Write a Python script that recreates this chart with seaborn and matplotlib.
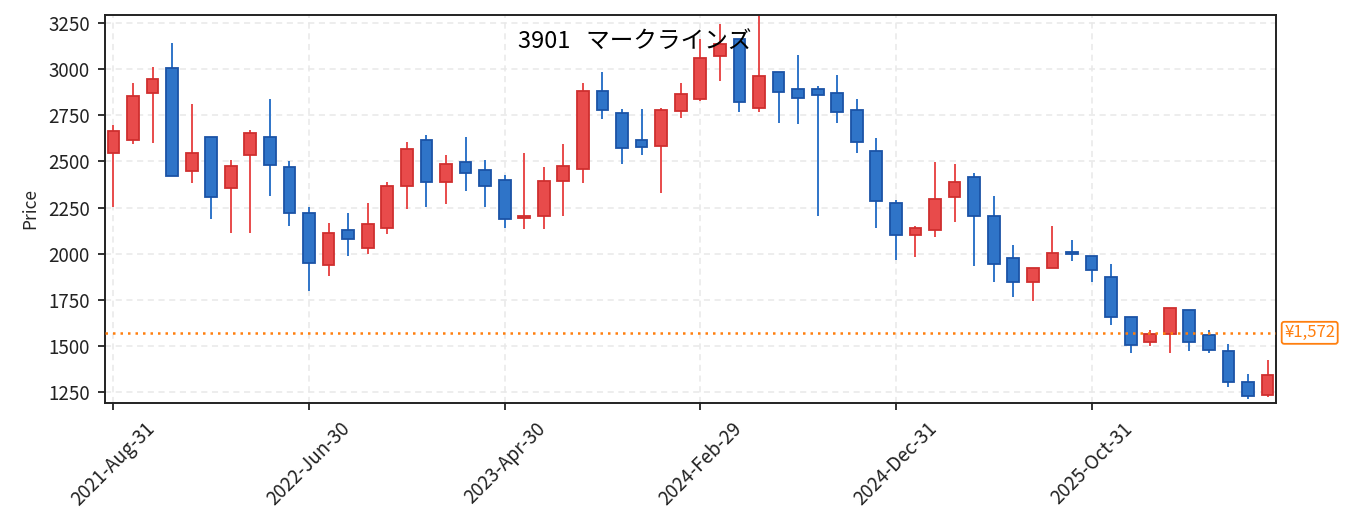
import numpy as np
import pandas as pd
import matplotlib
matplotlib.use("Agg")
import matplotlib.pyplot as plt
import matplotlib.transforms as mtransforms
import seaborn as sns

# Monthly candles for 3901
title = "3901   マークラインズ"
start_month = "2021-08-31"
opens = [2544, 2616, 2871, 3008, 2446, 2634, 2354, 2534, 2634, 2471,
         2222, 1938, 2130, 2030, 2139, 2366, 2618, 2386, 2498, 2455,
         2401, 2195, 2202, 2392, 2457, 2883, 2762, 2618, 2583, 2773,
         2836, 3071, 3165, 2787, 2986, 2894, 2894, 2872, 2780, 2558,
         2276, 2101, 2128, 2305, 2417, 2206, 1978, 1846, 1922, 2007,
         1989, 1875, 1660, 1521, 1568, 1696, 1560, 1474, 1306, 1233]
closes = [2666, 2856, 2948, 2421, 2547, 2305, 2477, 2656, 2480, 2220,
          1949, 2113, 2079, 2162, 2368, 2569, 2386, 2488, 2440, 2366,
          2191, 2205, 2395, 2473, 2883, 2778, 2574, 2578, 2780, 2867,
          3062, 3138, 2822, 2965, 2876, 2843, 2858, 2768, 2605, 2285,
          2099, 2140, 2298, 2390, 2204, 1944, 1846, 1924, 2005, 1998,
          1911, 1658, 1504, 1564, 1707, 1521, 1477, 1306, 1228, 1344]
highs = [2697, 2925, 3010, 3142, 2809, 2634, 2506, 2670, 2838, 2500,
         2256, 2166, 2220, 2274, 2386, 2608, 2641, 2534, 2632, 2507,
         2426, 2545, 2469, 2594, 2925, 2984, 2784, 2784, 2787, 2925,
         3163, 3245, 3165, 3285, 2986, 3077, 2907, 2966, 2836, 2627,
         2289, 2148, 2497, 2486, 2435, 2312, 2047, 1924, 2150, 2074,
         1989, 1944, 1660, 1586, 1707, 1696, 1589, 1510, 1351, 1423]
lows = [2254, 2596, 2601, 2421, 2384, 2189, 2113, 2113, 2314, 2151,
        1799, 1880, 1989, 1999, 2108, 2242, 2253, 2271, 2341, 2253,
        2141, 2135, 2135, 2206, 2384, 2731, 2488, 2536, 2330, 2735,
        2825, 2937, 2769, 2769, 2710, 2701, 2206, 2710, 2547, 2141,
        1969, 1983, 2092, 2173, 1935, 1848, 1766, 1745, 1922, 1963,
        1848, 1615, 1463, 1499, 1463, 1474, 1463, 1279, 1215, 1224]
current_price = 1572

dates = pd.date_range(start_month, periods=len(opens), freq="ME")
df = pd.DataFrame({"open": opens, "high": highs, "low": lows, "close": closes}, index=dates)
df["x"] = np.arange(len(df))
df["up"] = df["close"] >= df["open"]

sns.set_theme(style="white")
plt.rcParams["font.family"] = ["Noto Sans CJK JP", "DejaVu Sans"]

UP_FILL, UP_EDGE = "#e84b4b", "#cf2f2f"
DN_FILL, DN_EDGE = "#2f74c8", "#1b53a6"

fig = plt.figure(figsize=(13.55, 5.32), dpi=100)
ax = fig.add_axes([0.0775, 0.2425, 0.8642, 0.7293])

for up, fill, edge in [(True, UP_FILL, UP_EDGE), (False, DN_FILL, DN_EDGE)]:
    d = df[df["up"] == up]
    ax.vlines(d["x"], d["low"], d["high"], color=fill, linewidth=1.4, zorder=2)
    body_lo = d[["open", "close"]].min(axis=1)
    body_h = (d["close"] - d["open"]).abs()
    ax.bar(d["x"], body_h, bottom=body_lo, width=0.6, color=fill,
           edgecolor=edge, linewidth=1.3, zorder=3)

# current price line + label
ax.axhline(current_price, color="#ff7f0e", linestyle=(0, (1, 2)), linewidth=1.8, zorder=4)
trans = mtransforms.blended_transform_factory(ax.transAxes, ax.transData)
ax.text(1.007, current_price, f"¥{current_price:,}", transform=trans, ha="left", va="center",
        fontsize=12, color="#ff7f0e",
        bbox=dict(boxstyle="round,pad=0.15", facecolor="white", edgecolor="#ff7f0e", linewidth=1.3))

ax.text(0.452, 0.93, title, transform=ax.transAxes, ha="center", va="center",
        fontsize=17, color="black", zorder=5)

ax.set_xlim(-0.43, len(df) - 1 + 0.43)
ax.set_ylim(1192, 3293)
ax.set_yticks(np.arange(1250, 3251, 250))
tick_pos = df["x"].values[::10]
ax.set_xticks(tick_pos)
ax.set_xticklabels([d.strftime("%Y-%b-%d") for d in df.index[::10]], rotation=45)
ax.tick_params(axis="both", labelsize=13.5, length=5, width=1.3, direction="out",
               bottom=True, left=True, colors="#222222")
ax.tick_params(axis="y", pad=6)
ax.tick_params(axis="x", pad=6)
ax.set_ylabel("Price", fontsize=12.5, labelpad=6)
ax.grid(True, linestyle=(0, (4, 3)), color="#e8e8e8", linewidth=1.1)
ax.set_axisbelow(True)
for s in ax.spines.values():
    s.set_color("#222222")
    s.set_linewidth(1.4)

fig.savefig("out.png", dpi=100)
